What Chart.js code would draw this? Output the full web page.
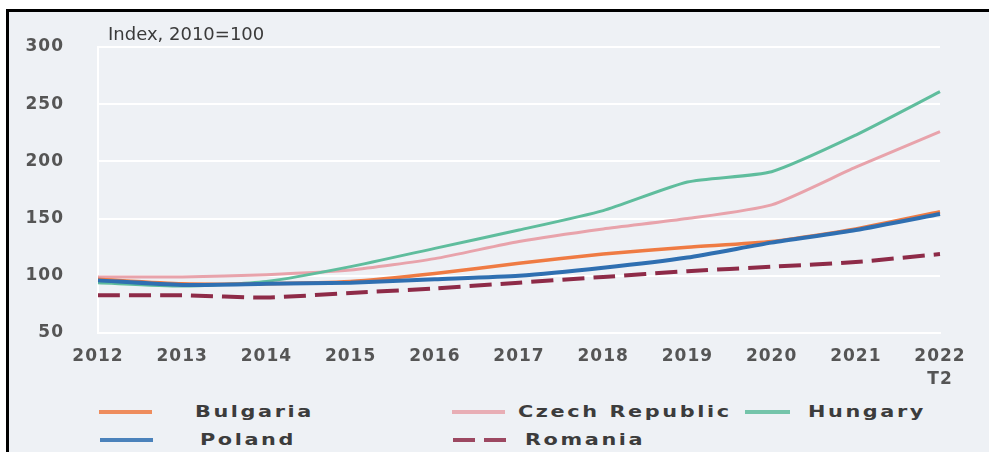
<!DOCTYPE html>
<html>
<head>
<meta charset="utf-8">
<script src="https://cdn.jsdelivr.net/npm/chart.js@4.4.0/dist/chart.umd.min.js"></script>
<style>
    html, body { margin: 0; padding: 0; background: #fff; }
    #frame {
        position: absolute; left: 6px; top: 9px;
        width: 983px; height: 443px; box-sizing: border-box;
        border-left: 3px solid #000; border-top: 3px solid #000;
        background: #eef1f5; overflow: hidden;
    }
    #chart { position: absolute; left: 0; top: 0; }
    #unit {
        position: absolute; left: 99px; top: 12px;
        font: 18px "DejaVu Sans", sans-serif; color: #3a3a3a; line-height: 20px;
    }
    .key { position: absolute; height: 20px; }
    .key svg { position: absolute; top: 0; }
    .key span {
        position: absolute; top: 0; white-space: nowrap;
        font: bold 16px "DejaVu Sans", sans-serif; color: #3c3c3c;
        letter-spacing: 2px; line-height: 20px;
        transform: scaleX(1.3); transform-origin: left center;
    }
</style>
</head>
<body>
<div id="frame">
    <canvas id="chart" width="980" height="385"></canvas>
    <div id="unit">Index, 2010=100</div>
    <div id="legend"></div>
</div>

<script>
/* ===========================
   DATOS
=========================== */

const years = ["2012", "2013", "2014", "2015", "2016", "2017", "2018", "2019", "2020", "2021", ["2022", "T2"]];
const yTicks = [50, 100, 150, 200, 250, 300];

const bulgaria = [97, 93, 93, 95, 102, 111, 119, 125, 130, 141, 156];
const czechRepublic = [99, 99, 101, 105, 115, 130, 141, 150, 162, 195, 226];
const hungary = [94, 91, 95, 108, 124, 140, 157, 182, 191, 223, 261];
const poland = [96, 92, 93, 94, 97, 100, 107, 116, 129, 140, 154];
const romania = [83, 83, 81, 85, 89, 94, 99, 104, 108, 112, 119];

/* ===========================
   SERIES
=========================== */

const series = [
    { label: "Bulgaria", data: bulgaria, color: "#ef7b43", width: 3.5, order: 2 },
    { label: "Czech Republic", data: czechRepublic, color: "#e8a3ab", width: 3, order: 4 },
    { label: "Hungary", data: hungary, color: "#5fbd9d", width: 3, order: 3 },
    { label: "Poland", data: poland, color: "#2f6fb1", width: 4, order: 1 },
    { label: "Romania", data: romania, color: "#8e2b48", width: 4, order: 0, dash: [22, 9] }
];

// posición de cada entrada de la leyenda (coordenadas dentro del marco)
const legendSlots = {
    "Bulgaria":       { x1: 90,  x2: 143, y: 400, tx: 186 },
    "Czech Republic": { x1: 443, x2: 496, y: 400, tx: 509 },
    "Hungary":        { x1: 736, x2: 781, y: 400, tx: 799 },
    "Poland":         { x1: 91,  x2: 144, y: 428, tx: 191 },
    "Romania":        { x1: 444, x2: 499, y: 428, tx: 516 }
};

/* ===========================
   GRÁFICO
=========================== */

const letterSpacing = {
    id: "letterSpacing",
    beforeDraw(chart) { chart.ctx.letterSpacing = "1px"; }
};

const tickFont = { family: "DejaVu Sans", size: 17, weight: "bold" };

new Chart(document.getElementById("chart"), {
    type: "line",
    data: {
        labels: years,
        datasets: series.map(s => ({
            label: s.label,
            data: s.data,
            borderColor: s.color,
            backgroundColor: s.color,
            borderWidth: s.width,
            borderDash: s.dash || [],
            borderCapStyle: "butt",
            tension: 0.2,
            pointRadius: 0,
            order: s.order
        }))
    },
    options: {
        responsive: false,
        animation: false,
        layout: { padding: { top: 35, right: 49, left: 0, bottom: 0 } },
        plugins: { legend: { display: false }, tooltip: { enabled: false } },
        scales: {
            x: {
                offset: false,
                grid: { display: false, drawTicks: false },
                border: { display: true, color: "#ffffff", width: 2 },
                ticks: { color: "#555555", font: { ...tickFont, lineHeight: 1.3 }, padding: 13, maxRotation: 0, autoSkip: false },
                afterFit(scale) { scale.height = 64; scale.paddingTop = 0; scale.paddingBottom = 0; }
            },
            y: {
                min: 50,
                max: 300,
                afterBuildTicks(scale) { scale.ticks = yTicks.map(v => ({ value: v })); },
                grid: { color: "#ffffff", lineWidth: 2, drawTicks: false },
                border: { display: true, color: "#ffffff", width: 2 },
                ticks: { color: "#555555", font: tickFont, padding: 34 },
                afterFit(scale) { scale.width = 89; scale.paddingTop = 0; scale.paddingBottom = 0; }
            }
        }
    },
    plugins: [letterSpacing]
});

/* ===========================
   LEYENDA
=========================== */

const legend = document.getElementById("legend");
series.forEach(s => {
    const slot = legendSlots[s.label];
    const item = document.createElement("div");
    item.className = "key";
    item.style.left = slot.x1 + "px";
    item.style.top = (slot.y - 10) + "px";
    const len = slot.x2 - slot.x1;
    const dash = s.dash ? `stroke-dasharray="${s.dash.join(" ")}"` : "";
    item.innerHTML = `
        <svg width="${len}" height="20" style="left:0">
            <line x1="0" y1="10" x2="${len}" y2="10" stroke="${s.color}" stroke-width="4" ${dash} opacity="0.85"/>
        </svg>
        <span style="left:${slot.tx - slot.x1}px">${s.label}</span>
    `;
    legend.appendChild(item);
});
</script>
</body>
</html>
